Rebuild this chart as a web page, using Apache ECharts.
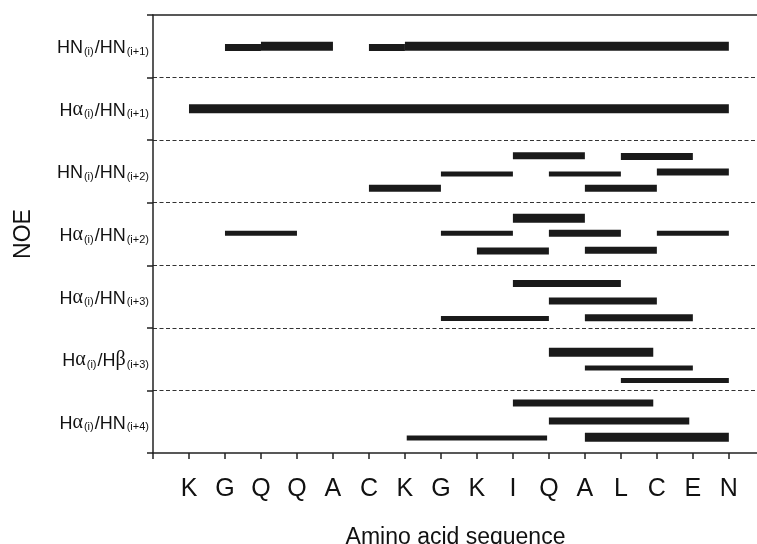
<!DOCTYPE html>
<html>
<head>
<meta charset="utf-8">
<script src="https://cdn.jsdelivr.net/npm/echarts@6/dist/echarts.min.js"></script>
<style>
  html, body { margin: 0; background: #fff; }
  #chart { width: 757px; height: 544px; }
</style>
</head>
<body>
<div id="chart"></div>
<script>
const residues = ['K', 'G', 'Q', 'Q', 'A', 'C', 'K', 'G', 'K', 'I', 'Q', 'A', 'L', 'C', 'E', 'N']
const noeTypes = [
  'HN(i)/HN(i+1)',
  'Hα(i)/HN(i+1)',
  'HN(i)/HN(i+2)',
  'Hα(i)/HN(i+2)',
  'Hα(i)/HN(i+3)',
  'Hα(i)/Hβ(i+3)',
  'Hα(i)/HN(i+4)',
]

// one entry per NOE bar: residue from / to, row position (band index + offset), strength 3 strong, 2 medium, 1 weak
const barStart = [2, 3, 6, 7, 1, 10, 13, 8, 11, 14, 6, 12, 2, 10, 8, 11, 14, 9, 12, 10, 11, 8, 12, 11, 12, 13, 10, 11, 7.05, 12]
const barEnd = [3, 5, 7, 16, 16, 12, 15, 10, 13, 16, 8, 14, 4, 12, 10, 13, 16, 11, 14, 13, 14, 11, 15, 13.9, 15, 16, 13.9, 14.9, 10.95, 16]
const barRow = [0.52, 0.5, 0.52, 0.5, 1.5, 2.25, 2.26, 2.54, 2.54, 2.51, 2.77, 2.77, 3.49, 3.25, 3.49, 3.49, 3.49, 3.77, 3.76,
  4.29, 4.57, 4.85, 4.84, 5.39, 5.64, 5.84, 6.2, 6.49, 6.76, 6.75]
const barStrength = [2, 3, 2, 3, 3, 2, 2, 1, 1, 2, 2, 2, 1, 3, 1, 2, 1, 2, 2, 2, 2, 1, 2, 3, 1, 1, 2, 2, 1, 3]

const thickness = { 1: 5, 2: 7, 3: 9 }
const axisColor = '#222'
const xMax = 16.81 // axis runs a little past the last residue, off the right edge

const richLabel = s => s.split(/(\([^)]*\)|[αβ])/).filter(Boolean).map(t => {
  if (t[0] === '(') return '{s|' + t + '}'
  if (t === 'α' || t === 'β') return '{g|' + t + '}'
  return '{m|' + t + '}'
}).join('')

const chart = echarts.init(document.getElementById('chart'))

chart.setOption({
  animation: false,
  backgroundColor: '#fff',
  grid: { left: 153, right: -1, top: 15, bottom: 91, outerBoundsMode: 'none', containLabel: false },
  xAxis: [
    {
      type: 'value',
      min: 0,
      max: xMax,
      interval: 1,
      position: 'bottom',
      name: 'Amino acid sequence',
      nameLocation: 'middle',
      nameGap: 73,
      nameTextStyle: { fontFamily: 'Liberation Sans', fontSize: 23, color: '#111' },
      axisLine: { onZero: false, lineStyle: { color: axisColor, width: 1.5 } },
      axisTick: { length: 6, lineStyle: { color: axisColor, width: 1.5 } },
      axisLabel: {
        margin: 24,
        fontFamily: 'Liberation Sans',
        fontSize: 25,
        color: '#111',
        formatter: v => (Number.isInteger(v) && residues[v - 1]) || '',
      },
      splitLine: { show: false },
    },
    {
      type: 'value',
      min: 0,
      max: xMax,
      position: 'top',
      axisLine: { onZero: false, lineStyle: { color: axisColor, width: 1.5 } },
      axisTick: { show: false },
      axisLabel: { show: false },
      splitLine: { show: false },
    },
  ],
  yAxis: [
    {
      type: 'value',
      min: 0,
      max: 7,
      interval: 1,
      inverse: true,
      position: 'left',
      name: 'NOE',
      nameLocation: 'middle',
      nameRotate: 90,
      nameGap: 118,
      nameTextStyle: { fontFamily: 'Liberation Sans', fontSize: 23, color: '#111' },
      axisLine: { onZero: false, lineStyle: { color: axisColor, width: 1.5 } },
      axisTick: { length: 6, lineStyle: { color: axisColor, width: 1.5 } },
      axisLabel: { show: false },
      splitLine: {
        show: true,
        showMinLine: false,
        showMaxLine: false,
        lineStyle: { color: '#333', width: 1.2, type: [4, 2.5] },
      },
    },
    {
      type: 'category',
      data: noeTypes,
      inverse: true,
      position: 'left',
      axisLine: { show: false },
      axisTick: { show: false },
      axisLabel: {
        margin: 3,
        formatter: richLabel,
        rich: {
          m: { fontFamily: 'Liberation Sans', fontSize: 18, color: '#111', lineHeight: 22, verticalAlign: 'bottom' },
          g: { fontFamily: 'Liberation Serif', fontSize: 20, color: '#111', lineHeight: 22, verticalAlign: 'bottom' },
          s: { fontFamily: 'Liberation Sans', fontSize: 11, color: '#111', lineHeight: 13, verticalAlign: 'bottom', padding: [0, 1, 0, 1] },
        },
      },
      splitLine: { show: false },
    },
  ],
  series: [
    {
      type: 'custom',
      xAxisIndex: 0,
      yAxisIndex: 0,
      data: barStart.map((s, i) => [s, barEnd[i], barRow[i]]),
      encode: { x: [0, 1], y: 2 },
      renderItem: (params, api) => {
        const p0 = api.coord([api.value(0), api.value(2)])
        const p1 = api.coord([api.value(1), api.value(2)])
        const h = thickness[barStrength[params.dataIndex]]
        return {
          type: 'rect',
          shape: { x: p0[0], y: p0[1] - h / 2, width: p1[0] - p0[0], height: h },
          style: { fill: '#1a1a1a' },
        }
      },
    },
  ],
})
</script>
</body>
</html>
